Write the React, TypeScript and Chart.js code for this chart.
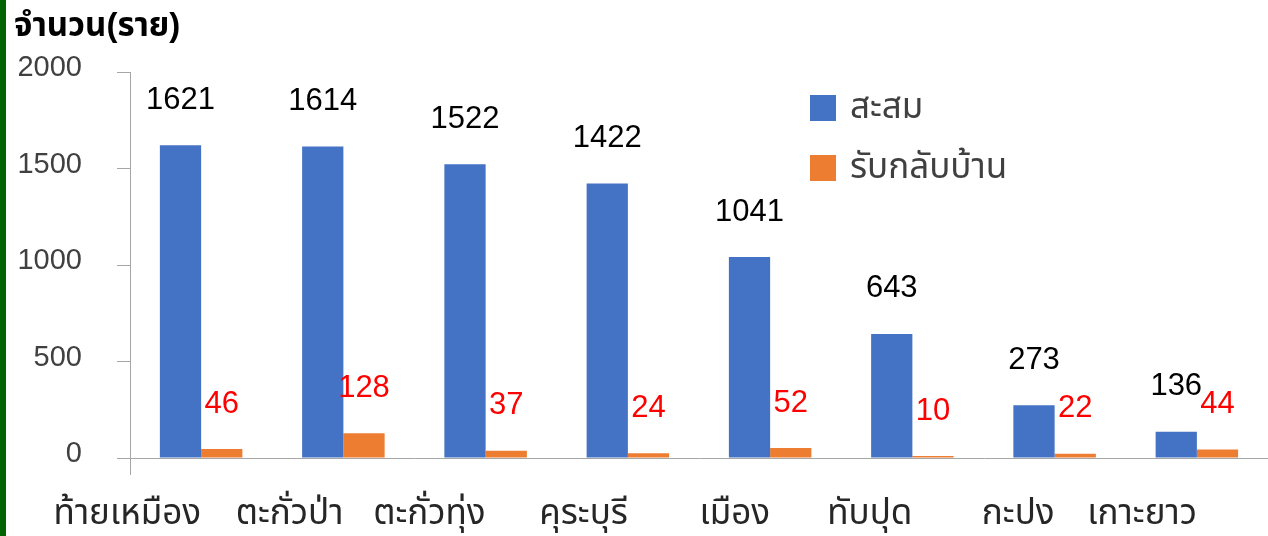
import React, { useEffect, useRef } from 'react';
import { Chart, registerables } from 'chart.js';
Chart.register(...registerables);

const categories = ['ท้ายเหมือง', 'ตะกั่วป่า', 'ตะกั่วทุ่ง', 'คุระบุรี', 'เมือง', 'ทับปุด', 'กะปง', 'เกาะยาว'];
const cumulative = [1621, 1614, 1522, 1422, 1041, 643, 273, 136];
const returnedHome = [46, 128, 37, 24, 52, 10, 22, 44];
const seriesNames = ['สะสม', 'รับกลับบ้าน'];
const yMin = 0;
const yMax = 2000;
const yStep = 500;
const axisTitle = 'จำนวน(ราย)';

const BLUE = '#4472C4';
const ORANGE = '#ED7D31';
const AXIS = '#A6A6A6';
const FONT = "'Liberation Sans', Tahoma, 'Noto Sans Thai', 'Noto Sans', sans-serif";

const decor = {
  id: 'decor',
  beforeDraw(chart: any) {
    const ctx = chart.ctx;
    ctx.save();
    ctx.fillStyle = '#ffffff';
    ctx.fillRect(0, 0, chart.width, chart.height);
    ctx.fillStyle = '#006400';
    ctx.fillRect(0, 0, 6, chart.height);
    ctx.restore();
  },
  afterDraw(chart: any) {
    const ctx = chart.ctx;
    const { left, bottom } = chart.chartArea;
    ctx.save();
    // axis extensions
    ctx.strokeStyle = AXIS;
    ctx.lineWidth = 1;
    ctx.beginPath();
    ctx.moveTo(left - 13, Math.round(bottom) + 0.5);
    ctx.lineTo(left, Math.round(bottom) + 0.5);
    ctx.moveTo(Math.round(left) + 0.5, bottom);
    ctx.lineTo(Math.round(left) + 0.5, bottom + 17);
    ctx.stroke();

    // title
    ctx.fillStyle = '#000000';
    ctx.font = `bold 33px ${FONT}`;
    ctx.textAlign = 'left';
    ctx.textBaseline = 'middle';
    ctx.fillText(axisTitle, 14, 27);

    // legend
    const colors = [BLUE, ORANGE];
    seriesNames.forEach((name, i) => {
      const y = 108 + i * 60;
      ctx.fillStyle = colors[i];
      ctx.fillRect(810, y - 13, 26, 26);
      ctx.fillStyle = '#404040';
      ctx.font = `35px ${FONT}`;
      ctx.textAlign = 'left';
      ctx.textBaseline = 'middle';
      ctx.fillText(name, 850, y);
    });

    // data labels
    const labelColors = ['#000000', '#FF0000'];
    chart.data.datasets.forEach((ds: any, di: number) => {
      const meta = chart.getDatasetMeta(di);
      meta.data.forEach((bar: any, i: number) => {
        ctx.fillStyle = labelColors[di];
        ctx.font = `31px ${FONT}`;
        ctx.textAlign = 'center';
        ctx.textBaseline = 'middle';
        ctx.fillText(String(ds.data[i]), bar.x, bar.y - 45);
      });
    });
    ctx.restore();
  },
};

export default function App() {
  const ref = useRef<HTMLCanvasElement>(null);
  useEffect(() => {
    document.body.style.margin = '0';
    const chart = new Chart(ref.current!, {
      type: 'bar',
      data: {
        labels: categories,
        datasets: [
          { label: seriesNames[0], data: cumulative, backgroundColor: BLUE, categoryPercentage: 0.58, barPercentage: 1 },
          { label: seriesNames[1], data: returnedHome, backgroundColor: ORANGE, categoryPercentage: 0.58, barPercentage: 1 },
        ],
      },
      options: {
        responsive: false,
        animation: false,
        layout: { padding: { top: 72, right: 0, left: 0, bottom: 0 } },
        plugins: { legend: { display: false }, title: { display: false }, tooltip: { enabled: false } },
        scales: {
          x: {
            grid: { display: false },
            border: { display: true, color: AXIS, width: 1 },
            ticks: {
              align: 'end',
              color: '#262626',
              font: { family: FONT, size: 35 },
              padding: 27,
              maxRotation: 0,
              autoSkip: false,
            },
            afterFit: (s: any) => { s.height = 78; },
          },
          y: {
            min: yMin,
            max: yMax,
            grid: { display: true, drawOnChartArea: false, drawTicks: true, tickLength: 13, color: AXIS },
            border: { display: true, color: AXIS, width: 1 },
            ticks: {
              stepSize: yStep,
              color: '#404040',
              font: { family: FONT, size: 29 },
              padding: 35,
              labelOffset: -4,
              callback: (v: any) => String(v),
            },
            afterFit: (s: any) => { s.width = 130; },
          },
        },
      },
      plugins: [decor],
    });
    return () => chart.destroy();
  }, []);
  return <canvas ref={ref} width={1268} height={536} style={{ display: 'block' }} />;
}
